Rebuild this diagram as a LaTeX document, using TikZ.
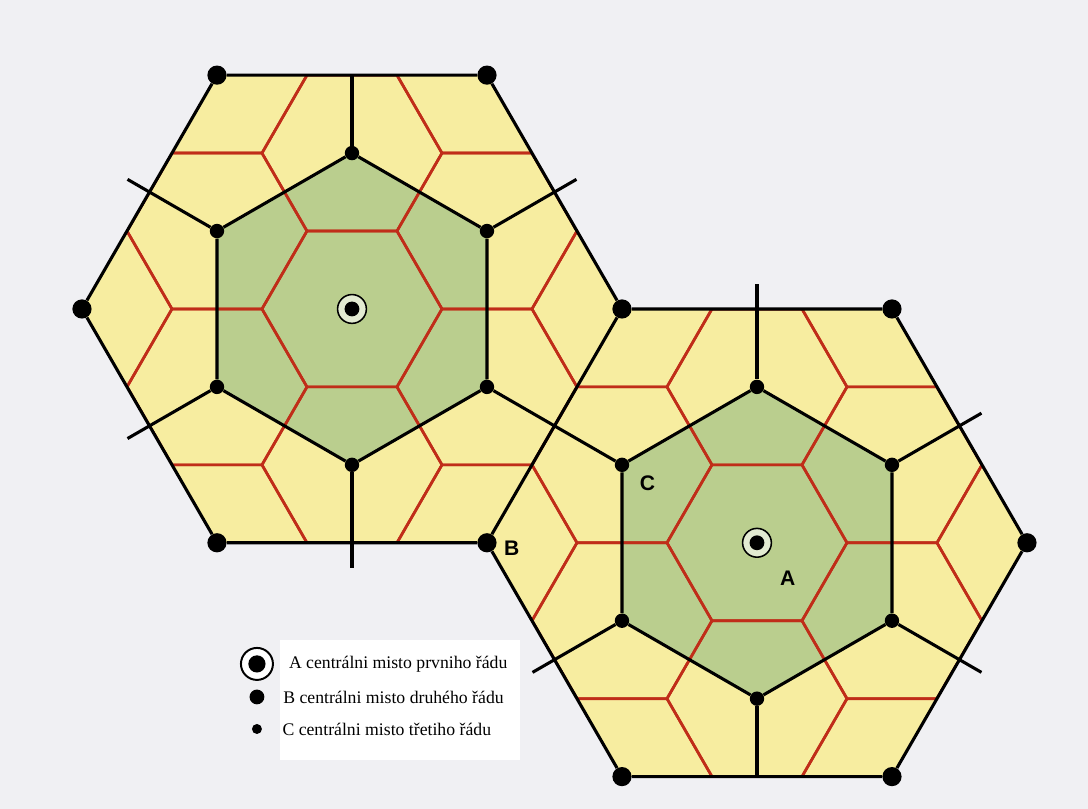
\documentclass[tikz,border=0pt]{standalone}
\usepackage{fontspec}
\setmainfont{Liberation Serif}
\setsansfont{Liberation Sans}
\usepackage{xcolor}
\usepackage{tikz}
\usetikzlibrary{positioning,backgrounds,calc}
\definecolor{paper}{RGB}{240,240,243}
\definecolor{areayellow}{RGB}{247,237,160}
\definecolor{areagreen}{RGB}{186,206,142}
\definecolor{borderred}{RGB}{192,45,25}
\colorlet{ringfill}{white!60!areagreen}

\begin{document}
\begin{tikzpicture}[
  x=2.25cm, y=2.25cm,
  bline/.style={line width=2.2pt},
  rline/.style={line width=1.9pt, draw=borderred, line join=round},
  bdot/.style={circle, fill=black, inner sep=0pt, minimum size=0.48cm},
  cdot/.style={circle, fill=black, inner sep=0pt, minimum size=0.36cm},
  adot/.style={circle, fill=black, inner sep=0pt, minimum size=0.37cm},
  aring/.style={circle, draw, line width=1.1pt, fill=ringfill, inner sep=0pt, minimum size=0.72cm},
  lbl/.style={font=\sffamily\bfseries\fontsize{15}{15}\selectfont, inner sep=1pt},
  key/.style={font=\fontsize{12.6}{15}\selectfont, inner sep=0pt},
]
\useasboundingbox (-3.911,3.433) rectangle (8.178,-5.556);
\coordinate (O1) at (0,0);
\coordinate (O2) at (4.5,-2.598);

\node[bdot] (b1) at (-1.5,2.598) {};
\node[bdot] (b2) at (1.5,2.598) {};
\node[bdot] (b3) at (3,0) {};
\node[bdot] (b4) at (1.5,-2.598) {};
\node[bdot] (b5) at (-1.5,-2.598) {};
\node[bdot] (b6) at (-3,0) {};
\node[bdot] (b7) at (6,0) {};
\node[bdot] (b8) at (7.5,-2.598) {};
\node[bdot] (b9) at (6,-5.196) {};
\node[bdot] (b10) at (3,-5.196) {};

\node[cdot] (c1) at ($(O1)+(30:1.732)$) {};
\node[cdot] (c2) at ($(O1)+(90:1.732)$) {};
\node[cdot] (c3) at ($(O1)+(150:1.732)$) {};
\node[cdot] (c4) at ($(O1)+(210:1.732)$) {};
\node[cdot] (c5) at ($(O1)+(270:1.732)$) {};
\node[cdot] (c6) at ($(O1)+(330:1.732)$) {};
\node[cdot] (c7) at ($(O2)+(30:1.732)$) {};
\node[cdot] (c8) at ($(O2)+(90:1.732)$) {};
\node[cdot] (c9) at ($(O2)+(150:1.732)$) {};
\node[cdot] (c10) at ($(O2)+(210:1.732)$) {};
\node[cdot] (c11) at ($(O2)+(270:1.732)$) {};
\node[cdot] (c12) at ($(O2)+(330:1.732)$) {};

\coordinate (s1) at ($(O1)+(30:2.88)$);
\coordinate (s2) at ($(O1)+(90:2.598)$);
\coordinate (s3) at ($(O1)+(150:2.88)$);
\coordinate (s4) at ($(O1)+(210:2.88)$);
\coordinate (s5) at ($(O1)+(270:2.88)$);
\coordinate (s7) at ($(O2)+(30:2.88)$);
\coordinate (s8) at ($(O2)+(90:2.88)$);
\coordinate (s10) at ($(O2)+(210:2.88)$);
\coordinate (s11) at ($(O2)+(270:2.598)$);
\coordinate (s12) at ($(O2)+(330:2.88)$);

\node[aring] (ringA1) at (O1) {};
\node[adot] (A1) at (O1) {};
\node[aring] (ringA2) at (O2) {};
\node[adot] (A2) at (O2) {};

\begin{scope}[on background layer]
  \fill[paper] (-3.911,3.433) rectangle (8.178,-5.556);
  \fill[white] (-0.8,-3.678) rectangle (1.867,-5.011);
  \fill[areayellow] (b1.center) -- (b2.center) -- (b3.center) -- (b4.center) -- (b5.center) -- (b6.center) -- cycle;
  \fill[areayellow] (b3.center) -- (b7.center) -- (b8.center) -- (b9.center) -- (b10.center) -- (b4.center) -- cycle;
  \fill[areagreen] (c1.center) -- (c2.center) -- (c3.center) -- (c4.center) -- (c5.center) -- (c6.center) -- cycle;
  \fill[areagreen] (c7.center) -- (c8.center) -- (c9.center) -- (c10.center) -- (c11.center) -- (c12.center) -- cycle;
  \begin{scope}
    \clip (b1.center) -- (b2.center) -- (b3.center) -- (b4.center) -- (b5.center) -- (b6.center) -- cycle
          (b3.center) -- (b7.center) -- (b8.center) -- (b9.center) -- (b10.center) -- (b4.center) -- cycle;
    \foreach \i in {-3,...,6} {
      \foreach \j in {-7,...,3} {
        \draw[rline] ({1.5*\i+1},{0.866*\i+1.732*\j}) -- ++(120:1) -- ++(180:1) -- ++(240:1) -- ++(300:1) -- ++(0:1) -- cycle;
      }
    }
  \end{scope}
\end{scope}

\draw[bline] (b1) -- (b2) -- (b3) -- (b4) -- (b5) -- (b6) -- (b1);
\draw[bline] (b3) -- (b7) -- (b8) -- (b9) -- (b10) -- (b4);
\draw[bline] (c1) -- (c2) -- (c3) -- (c4) -- (c5) -- (c6) -- (c1);
\draw[bline] (c7) -- (c8) -- (c9) -- (c10) -- (c11) -- (c12) -- (c7);
\draw[bline] (c1) -- (s1);
\draw[bline] (c2) -- (s2);
\draw[bline] (c3) -- (s3);
\draw[bline] (c4) -- (s4);
\draw[bline] (c5) -- (s5);
\draw[bline] (c6) -- (c9);
\draw[bline] (c7) -- (s7);
\draw[bline] (c8) -- (s8);
\draw[bline] (c10) -- (s10);
\draw[bline] (c11) -- (s11);
\draw[bline] (c12) -- (s12);

\node[lbl, right=4pt of b4, yshift=-4pt] (labB) {B};
\node[lbl, below right=0.1cm and 0.27cm of c9] (labC) {C};
\node[lbl, below right=0.4cm and 0.27cm of ringA2] (labA) {A};

\node[aring, minimum size=0.8cm, line width=1.4pt, fill=white] (keyA) at (-1.056,-3.944) {};
\node[adot, minimum size=0.43cm] (keyAdot) at (keyA) {};
\node[bdot, minimum size=0.37cm] (keyB) at (-1.056,-4.311) {};
\node[cdot, minimum size=0.25cm] (keyC) at (-1.056,-4.667) {};
\node[key, right=0.37cm of keyA] (txtA) {A centrálni misto prvniho řádu};
\node[key, right=0.46cm of keyB] (txtB) {B centrálni misto druhého řádu};
\node[key, right=0.5cm of keyC] (txtC) {C centrálni misto třetiho řádu};
\end{tikzpicture}
\end{document}
